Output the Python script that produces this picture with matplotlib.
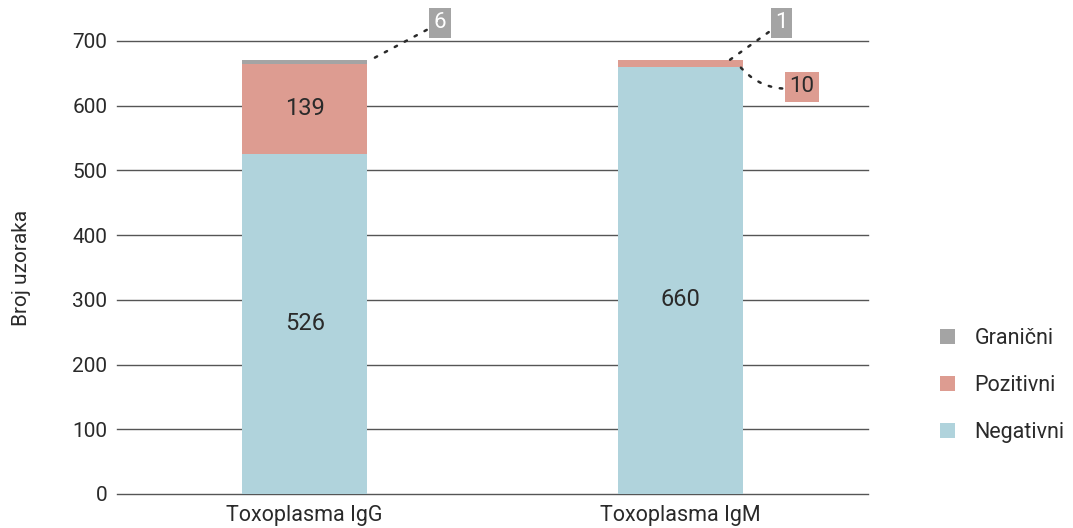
import matplotlib.pyplot as plt
import numpy as np

plt.rcParams['font.family'] = ['Roboto', 'DejaVu Sans']

# Podaci
kategorije = ['Toxoplasma IgG', 'Toxoplasma IgM']
negativni = [526, 660]
pozitivni = [139, 10]
granicni = [6, 1]

boja_neg = '#b0d3dc'
boja_poz = '#dd9c91'
boja_gran = '#a4a4a4'
tekst = '#2a2a2a'

fig = plt.figure(figsize=(10.73, 5.28), dpi=100)
ax = fig.add_axes([0.109, 0.0644, 0.70, 0.858])

x = np.arange(len(kategorije))
sirina = 0.333
neg = np.array(negativni)
poz = np.array(pozitivni)
gran = np.array(granicni)

ax.bar(x, neg, sirina, color=boja_neg, label='Negativni', zorder=3)
ax.bar(x, poz, sirina, bottom=neg, color=boja_poz, label='Pozitivni', zorder=3)
ax.bar(x, gran, sirina, bottom=neg + poz, color=boja_gran, label='Granični', zorder=3)

ax.set_xlim(-0.5, 1.5)
ax.set_ylim(0, 700)
ax.set_yticks(range(0, 701, 100))
ax.yaxis.grid(True, color='#555555', linewidth=1)
for gl in ax.get_ygridlines():
    gl.set_clip_on(False)
ax.set_axisbelow(True)
for s in ax.spines.values():
    s.set_visible(False)
ax.tick_params(axis='y', length=0, pad=7, labelsize=15, labelcolor=tekst)
ax.tick_params(axis='x', length=0, pad=8, labelsize=15.5, labelcolor=tekst)
ax.set_xticks(x)
ax.set_xticklabels(kategorije)
ax.set_ylabel('Broj uzoraka', fontsize=15, color=tekst, labelpad=30)

# vrijednosti unutar stupaca
ax.text(x[0], neg[0] / 2, str(negativni[0]), ha='center', va='center', fontsize=17, color=tekst, zorder=4)
ax.text(x[0], neg[0] + poz[0] / 2, str(pozitivni[0]), ha='center', va='center', fontsize=17, color=tekst, zorder=4)
ax.text(x[1], 300, str(negativni[1]), ha='center', va='center', fontsize=17, color=tekst, zorder=4)

# oznake s tockastim linijama
tocke = dict(arrowstyle='-', linestyle=(0, (1, 3.5)), color=tekst, lw=1.8, shrinkA=2, shrinkB=0)

vrh0 = neg[0] + poz[0] + gran[0]
ax.annotate(str(granicni[0]), xy=(x[0] + sirina / 2, vrh0 - 3), xytext=(x[0] + 0.36, 728),
            ha='center', va='center', fontsize=16, color='white',
            bbox=dict(boxstyle='square,pad=0.2', fc=boja_gran, ec='none'),
            arrowprops=tocke, annotation_clip=False, zorder=5)

vrh1 = neg[1] + poz[1] + gran[1]
ax.annotate(str(granicni[1]), xy=(x[1] + 0.13, vrh1 - 1), xytext=(x[1] + 0.27, 728),
            ha='center', va='center', fontsize=16, color='white',
            bbox=dict(boxstyle='square,pad=0.2', fc=boja_gran, ec='none'),
            arrowprops=tocke, annotation_clip=False, zorder=5)

ax.annotate(str(pozitivni[1]), xy=(x[1] + 0.155, neg[1] + 3), xytext=(x[1] + 0.324, 629),
            ha='center', va='center', fontsize=16, color=tekst,
            bbox=dict(boxstyle='square,pad=0.2', fc=boja_poz, ec='none'),
            arrowprops=dict(tocke, connectionstyle='arc3,rad=-0.3'),
            annotation_clip=False, zorder=5)

# legenda
h, l = ax.get_legend_handles_labels()
leg = fig.legend(h[::-1], l[::-1], loc='center left', bbox_to_anchor=(0.858, 0.27),
                 frameon=False, fontsize=15.5, handlelength=0.7, handleheight=0.7,
                 labelspacing=1.2, handletextpad=0.9)
for t in leg.get_texts():
    t.set_color(tekst)

fig.savefig('out.png', dpi=100)
